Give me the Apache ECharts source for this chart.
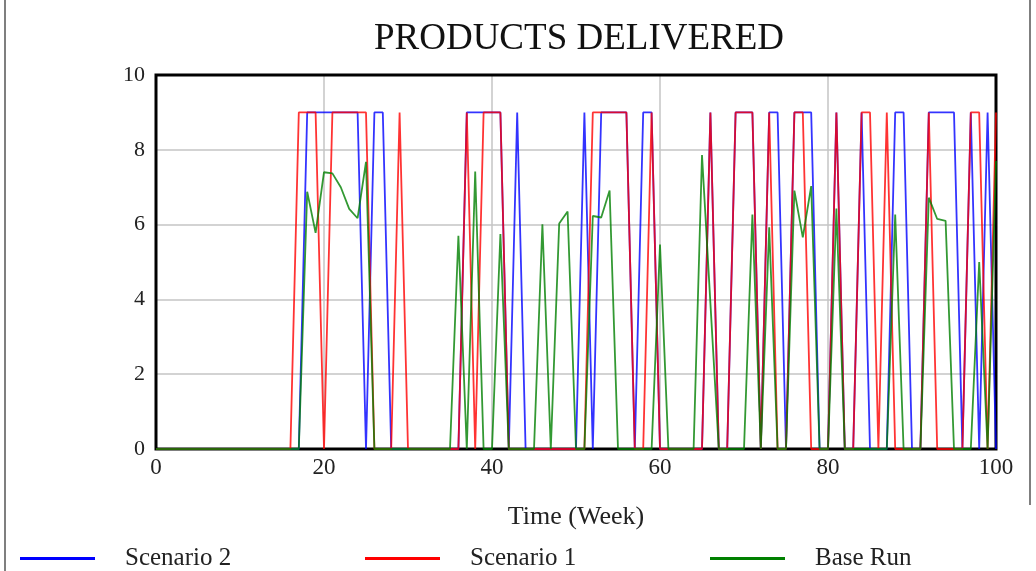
<!DOCTYPE html>
<html>
<head>
<meta charset="utf-8">
<script src="https://cdn.jsdelivr.net/npm/echarts@6/dist/echarts.min.js"></script>
<style>
  html, body { margin: 0; padding: 0; background: #fff; }
  #main { width: 1036px; height: 571px; }
</style>
</head>
<body>
<div id="main"></div>
<script>
// weekly values, week 0 .. 100
var scenario2 = [
  0, 0, 0, 0, 0, 0, 0, 0, 0, 0, 0, 0, 0, 0, 0, 0, 0, 0,
  9, 9, 9, 9, 9, 9, 9, 0, 9, 9,
  0, 0, 0, 0, 0, 0, 0, 0, 0,
  9, 9, 9, 9, 9, 0, 9,
  0, 0, 0, 0, 0, 0, 0, 9, 0, 9, 9, 9, 9, 0, 9, 9,
  0, 0, 0, 0, 0, 0, 9, 0, 0, 9, 9, 9, 0, 9, 9, 0,
  9, 9, 9, 0, 0, 9, 0, 0, 9, 0, 0, 0, 9, 9, 0, 0,
  9, 9, 9, 9, 0, 9, 0, 9, 0
];
var scenario1 = [
  0, 0, 0, 0, 0, 0, 0, 0, 0, 0, 0, 0, 0, 0, 0, 0, 0,
  9, 9, 9, 0, 9, 9, 9, 9, 9, 0, 0, 0, 9,
  0, 0, 0, 0, 0, 0, 0, 9, 0, 9, 9, 9,
  0, 0, 0, 0, 0, 0, 0, 0, 0, 0,
  9, 9, 9, 9, 9, 0, 0, 9,
  0, 0, 0, 0, 0, 0, 9, 0, 0, 9, 9, 9, 0, 9, 0, 0,
  9, 9, 0, 0, 0, 9, 0, 0, 9, 9, 0, 9, 0, 0, 0, 0,
  9, 0, 0, 0, 0, 9, 9, 0, 9
];
var baseRun = [
  0, 0, 0, 0, 0, 0, 0, 0, 0, 0, 0, 0, 0, 0, 0, 0, 0, 0,
  6.88, 5.78, 7.4, 7.37, 7.0, 6.42, 6.17, 7.68,
  0, 0, 0, 0, 0, 0, 0, 0, 0, 0,
  5.7, 0, 7.42, 0, 0, 5.75, 0, 0, 0, 0,
  6.01, 0, 6.03, 6.35, 0, 0, 6.23, 6.19, 6.91,
  0, 0, 0, 0, 0, 5.47, 0, 0, 0, 0,
  7.86, 3.9, 0, 0, 0, 0,
  6.27, 0, 5.93, 0, 0, 6.91, 5.66, 7.03, 0, 0, 6.43,
  0, 0, 0, 0, 0, 0, 6.27, 0, 0, 0,
  6.72, 6.15, 6.1, 0, 0, 0, 5.0, 0, 7.7
];
var seriesNames = ["Scenario 2", "Scenario 1", "Base Run"];
var seriesColors = ["#0000ff", "#ff0000", "#008000"];

var serif = "'Liberation Serif', 'DejaVu Serif', serif";

function toPairs(arr) {
  return arr.map(function (v, i) { return [i, v]; });
}

function makeSeries(name, values, color) {
  return {
    name: name,
    type: "line",
    data: toPairs(values),
    showSymbol: false,
    symbol: "none",
    color: color,
    lineStyle: { color: color, width: 1.8, opacity: 0.8 },
    animation: false,
  };
}

function makeLegend(name, left) {
  return {
    data: [name],
    left: left,
    top: 541,
    icon: "rect",
    itemWidth: 75,
    itemHeight: 3,
    textStyle: { fontFamily: serif, fontSize: 25, color: "#222", padding: [0, 0, 0, 25] },
  };
}

var chart = echarts.init(document.getElementById("main"), null, { renderer: "canvas" });

var option = {
  backgroundColor: "#fff",
  animation: false,
  title: {
    text: "PRODUCTS DELIVERED",
    left: 574,
    textAlign: "center",
    top: 16,
    textStyle: { fontFamily: serif, fontSize: 37, fontWeight: "normal", color: "#111" },
  },
  legend: [
    makeLegend(seriesNames[0], 15),
    makeLegend(seriesNames[1], 360),
    makeLegend(seriesNames[2], 705),
  ],
  grid: {
    left: 156,
    right: 40,
    top: 75,
    bottom: 122,
  },
  xAxis: {
    type: "value",
    min: 0,
    max: 100,
    interval: 20,
    name: "Time (Week)",
    nameLocation: "middle",
    nameGap: 55,
    nameTextStyle: { fontFamily: serif, fontSize: 26, color: "#222" },
    axisLine: { show: false },
    axisTick: { show: false },
    axisLabel: { fontFamily: serif, fontSize: 23, color: "#222", margin: 7 },
    splitLine: { show: true, lineStyle: { color: "#c4c4c4", width: 1.5 } },
  },
  yAxis: {
    type: "value",
    min: 0,
    max: 10,
    interval: 2,
    axisLine: { show: false },
    axisTick: { show: false },
    axisLabel: { fontFamily: serif, fontSize: 22, color: "#222", margin: 11 },
    splitLine: { show: true, lineStyle: { color: "#c4c4c4", width: 1.5 } },
  },
  graphic: [
    { type: "line", shape: { x1: 5, y1: 0, x2: 5, y2: 571 }, style: { stroke: "#555", lineWidth: 1.5 } },
    { type: "line", shape: { x1: 1030, y1: 0, x2: 1030, y2: 505 }, style: { stroke: "#555", lineWidth: 1.5 } },
    // plot frame, drawn under the lines
    {
      type: "rect",
      z: 1,
      shape: { x: 156, y: 75, width: 840, height: 374 },
      style: { fill: null, stroke: "#000", lineWidth: 3 },
    },
  ],
  series: [
    makeSeries(seriesNames[0], scenario2, seriesColors[0]),
    makeSeries(seriesNames[1], scenario1, seriesColors[1]),
    makeSeries(seriesNames[2], baseRun, seriesColors[2]),
  ],
};

chart.setOption(option);
</script>
</body>
</html>
